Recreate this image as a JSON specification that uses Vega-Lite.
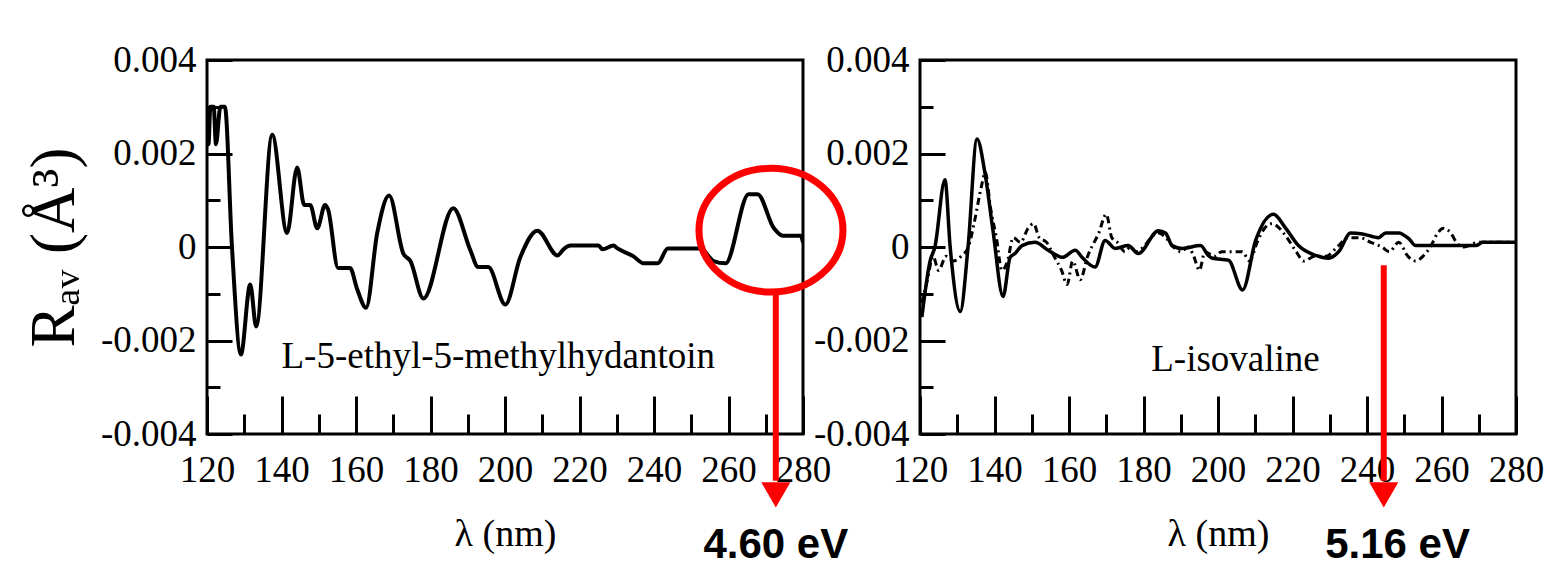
{
  "$schema": "https://vega.github.io/schema/vega-lite/v6.json",
  "background": "white",
  "padding": {"left": 21, "top": 39, "right": 5, "bottom": 5},
  "config": {
    "view": {"stroke": "black", "strokeWidth": 3},
    "font": "Times New Roman, Liberation Serif, serif",
    "axis": {"grid": false, "domain": false, "tickColor": "black", "tickWidth": 3, "labelColor": "black", "titleColor": "black", "labelFont": "Times New Roman, Liberation Serif, serif", "titleFont": "Times New Roman, Liberation Serif, serif", "titleFontWeight": "normal", "labelFlush": false, "labelOverlap": false}
  },
  "datasets": {
    "left": [
      {"nm": 120, "R": 0.0030}, {"nm": 120.4, "R": 0.0022}, {"nm": 120.9, "R": 0.0030}, {"nm": 121.8, "R": 0.0030},
      {"nm": 122.4, "R": 0.0022}, {"nm": 123.6, "R": 0.0030}, {"nm": 124.8, "R": 0.0030}, {"nm": 126.7, "R": 0.0},
      {"nm": 129.1, "R": -0.0023}, {"nm": 131.6, "R": -0.0008}, {"nm": 133.2, "R": -0.0017}, {"nm": 137.5, "R": 0.0024},
      {"nm": 141.5, "R": 0.0003}, {"nm": 144.2, "R": 0.0017}, {"nm": 146.1, "R": 0.0009}, {"nm": 147.7, "R": 0.0009},
      {"nm": 149.6, "R": 0.0004}, {"nm": 151.7, "R": 0.0009}, {"nm": 152.5, "R": 0.0008}, {"nm": 155.2, "R": -0.00045},
      {"nm": 158.4, "R": -0.00045}, {"nm": 160.3, "R": -0.0009}, {"nm": 162.7, "R": -0.0013}, {"nm": 165.7, "R": 0.0003},
      {"nm": 168.9, "R": 0.0011}, {"nm": 172.7, "R": -0.00014}, {"nm": 174.6, "R": -0.0003}, {"nm": 178.1, "R": -0.0011},
      {"nm": 186.1, "R": 0.00083}, {"nm": 190.7, "R": -0.00007}, {"nm": 192.8, "R": -0.00043}, {"nm": 195.5, "R": -0.00043},
      {"nm": 200.1, "R": -0.00123}, {"nm": 204.1, "R": -0.00022}, {"nm": 208.7, "R": 0.00035}, {"nm": 214.1, "R": -0.00018},
      {"nm": 215.7, "R": -0.00005}, {"nm": 217.6, "R": 0.00003}, {"nm": 225.1, "R": 0.00003}, {"nm": 226.2, "R": -0.00005},
      {"nm": 229.1, "R": 0.00003}, {"nm": 230.2, "R": -0.00003}, {"nm": 234.5, "R": -0.0002}, {"nm": 237.2, "R": -0.00035},
      {"nm": 241.0, "R": -0.00035}, {"nm": 243.7, "R": -0.00003}, {"nm": 252.5, "R": -0.00003}, {"nm": 256.0, "R": -0.0003},
      {"nm": 259.2, "R": -0.00035}, {"nm": 265.4, "R": 0.00113}, {"nm": 267.8, "R": 0.00113}, {"nm": 272.2, "R": 0.0004},
      {"nm": 274.6, "R": 0.00024}, {"nm": 279.4, "R": 0.00024}, {"nm": 280, "R": 0.0001}
    ],
    "rightSolid": [
      {"nm": 120.5, "R": -0.0015}, {"nm": 122.7, "R": -0.0003}, {"nm": 124.0, "R": 0.0}, {"nm": 126.7, "R": 0.00144},
      {"nm": 128.1, "R": 0.0}, {"nm": 130.8, "R": -0.00138}, {"nm": 132.9, "R": 0.0}, {"nm": 135.3, "R": 0.00231},
      {"nm": 137.5, "R": 0.00155}, {"nm": 139.6, "R": 0.00035}, {"nm": 142.3, "R": -0.00106}, {"nm": 144.2, "R": -0.00022},
      {"nm": 145.5, "R": -0.00014}, {"nm": 147.4, "R": 0.00003}, {"nm": 150.9, "R": 0.0001}, {"nm": 154.4, "R": -0.00007},
      {"nm": 158.2, "R": -0.00022}, {"nm": 161.7, "R": -0.00007}, {"nm": 163.5, "R": -0.00022}, {"nm": 167.0, "R": -0.00043},
      {"nm": 169.7, "R": 0.00014}, {"nm": 172.4, "R": -0.00003}, {"nm": 175.9, "R": 0.00003}, {"nm": 178.6, "R": -0.00014},
      {"nm": 184.0, "R": 0.00035}, {"nm": 185.9, "R": 0.0003}, {"nm": 187.7, "R": 0.00003}, {"nm": 190.4, "R": -0.00003},
      {"nm": 195.3, "R": 0.00003}, {"nm": 197.4, "R": -0.00018}, {"nm": 198.5, "R": -0.00024}, {"nm": 202.8, "R": -0.00028},
      {"nm": 206.6, "R": -0.00092}, {"nm": 210.1, "R": 0.00014}, {"nm": 214.9, "R": 0.0007}, {"nm": 218.1, "R": 0.00041},
      {"nm": 221.6, "R": 0.00003}, {"nm": 226.2, "R": -0.00018}, {"nm": 229.7, "R": -0.00024}, {"nm": 232.4, "R": -0.0001},
      {"nm": 235.6, "R": 0.0003}, {"nm": 238.8, "R": 0.00028}, {"nm": 243.1, "R": 0.0002}, {"nm": 245.0, "R": 0.0003},
      {"nm": 248.5, "R": 0.0003}, {"nm": 251.2, "R": 0.00018}, {"nm": 253.1, "R": 0.00003}, {"nm": 269.2, "R": 0.00003},
      {"nm": 271.1, "R": 0.0001}, {"nm": 280, "R": 0.0001}
    ],
    "rightDash": [
      {"nm": 120.5, "R": -0.0012}, {"nm": 122, "R": -0.0007}, {"nm": 123.5, "R": -0.0002}, {"nm": 125, "R": -0.0005},
      {"nm": 127, "R": -0.0002}, {"nm": 129, "R": -0.0003}, {"nm": 131, "R": -0.0002}, {"nm": 133, "R": 0.0},
      {"nm": 134.5, "R": 0.0005}, {"nm": 136.5, "R": 0.0013}, {"nm": 137.5, "R": 0.0016}, {"nm": 139, "R": 0.0008},
      {"nm": 140.5, "R": 0.0002}, {"nm": 142, "R": -0.0005}, {"nm": 143.5, "R": -0.0003}, {"nm": 145, "R": 0.0002},
      {"nm": 147, "R": 0.0001}, {"nm": 149, "R": 0.0004}, {"nm": 150.5, "R": 0.0005}, {"nm": 152, "R": 0.0002},
      {"nm": 154, "R": 0.0001}, {"nm": 156, "R": -0.0002}, {"nm": 158, "R": -0.0005}, {"nm": 159.5, "R": -0.0008},
      {"nm": 161, "R": -0.0003}, {"nm": 163, "R": -0.0007}, {"nm": 165, "R": -0.0002}, {"nm": 168, "R": 0.0003},
      {"nm": 170, "R": 0.0007}, {"nm": 171.5, "R": 0.0002}, {"nm": 173, "R": 0.0001}, {"nm": 175, "R": -0.0001},
      {"nm": 176.5, "R": 0.0}, {"nm": 178, "R": -0.0001}, {"nm": 180, "R": 0.0}, {"nm": 182, "R": 0.0002},
      {"nm": 184, "R": 0.0003}, {"nm": 186, "R": 0.0002}, {"nm": 188, "R": 0.0}, {"nm": 190, "R": -0.0001},
      {"nm": 192, "R": 0.0}, {"nm": 193.5, "R": -0.0002}, {"nm": 195, "R": -0.0005}, {"nm": 196.5, "R": -0.0001},
      {"nm": 199, "R": -0.0002}, {"nm": 201, "R": -0.0001}, {"nm": 203.5, "R": -0.0001}, {"nm": 206.5, "R": -0.0001},
      {"nm": 208.5, "R": -0.0003}, {"nm": 210.5, "R": 0.0001}, {"nm": 212.5, "R": 0.0004}, {"nm": 214.5, "R": 0.0005},
      {"nm": 216.5, "R": 0.0004}, {"nm": 218.5, "R": 0.0002}, {"nm": 221, "R": -0.0001}, {"nm": 223, "R": -0.0003},
      {"nm": 226, "R": -0.0002}, {"nm": 229, "R": -0.0002}, {"nm": 232, "R": 0.0}, {"nm": 235, "R": 0.0002},
      {"nm": 238, "R": 0.0002}, {"nm": 241, "R": 0.0001}, {"nm": 244, "R": 0.0}, {"nm": 246, "R": -0.0001},
      {"nm": 248.5, "R": 0.0001}, {"nm": 251, "R": -0.0002}, {"nm": 253, "R": -0.0003}, {"nm": 255, "R": -0.0002},
      {"nm": 257, "R": 0.0}, {"nm": 259, "R": 0.0003}, {"nm": 260.5, "R": 0.0004}, {"nm": 262.5, "R": 0.0003},
      {"nm": 264, "R": 0.0001}, {"nm": 266, "R": 0.0}, {"nm": 270, "R": 0.0001}, {"nm": 275, "R": 0.0001}, {"nm": 279, "R": 0.0001}
    ],
    "leftLabel": [{"nm": 198.2, "R": -0.00235, "label": "L-5-ethyl-5-methylhydantoin"}],
    "rightLabel": [{"nm": 204.7, "R": -0.00242, "label": "L-isovaline"}],
    "leftEllipse": [{"nm": 271.4, "R": 0.00036}],
    "leftArrow": [{"nm": 272.7, "R": -0.00092, "R2": -0.0050, "tip": -0.0053, "textR": -0.00637, "label": "4.60 eV"}],
    "rightArrow": [{"nm": 244.5, "R": -0.00039, "R2": -0.0050, "tip": -0.0053, "textR": -0.00637, "textNm": 248.2, "label": "5.16 eV"}]
  },
  "hconcat": [
    {
      "width": 596,
      "height": 374,
      "resolve": {"axis": {"x": "independent", "y": "independent"}},
      "layer": [
        {
          "data": {"name": "left"},
          "mark": {"type": "line", "color": "black", "strokeWidth": 4, "interpolate": "monotone", "clip": true},
          "encoding": {
            "x": {"field": "nm", "type": "quantitative", "scale": {"domain": [120, 280], "nice": false, "zero": false},
              "axis": {"orient": "bottom", "values": [120, 140, 160, 180, 200, 220, 240, 260, 280], "tickSize": -38, "labelPadding": 56, "labelFontSize": 37, "labelFont": "Times New Roman, Liberation Serif, serif", "title": "λ (nm)", "titleFontSize": 38, "titlePadding": 27}},
            "y": {"field": "R", "type": "quantitative", "scale": {"domain": [-0.004, 0.004], "nice": false, "zero": false},
              "axis": {"orient": "left", "values": [-0.004, -0.002, 0, 0.002, 0.004], "tickSize": -25, "labelPadding": 36, "labelFontSize": 37, "labelFont": "Times New Roman, Liberation Serif, serif",
                "labelExpr": "datum.value == 0 ? '0' : (datum.value < 0 ? '-' : '') + format(abs(datum.value), '.3f')",
                "title": "Rₐᵥ (Å³)", "titleFontSize": 63, "titlePadding": 14}}
          }
        },
        {
          "data": {"name": "leftLabel"},
          "mark": {"type": "text", "fontSize": 37, "font": "Times New Roman, Liberation Serif, serif", "color": "black"},
          "encoding": {
            "x": {"field": "nm", "type": "quantitative", "scale": {"domain": [120, 280], "nice": false, "zero": false},
              "axis": {"orient": "bottom", "values": [130, 150, 170, 190, 210, 230, 250, 270], "tickSize": -20, "labels": false, "title": null}},
            "y": {"field": "R", "type": "quantitative", "scale": {"domain": [-0.004, 0.004], "nice": false, "zero": false},
              "axis": {"orient": "left", "values": [-0.003, -0.001, 0.001, 0.003], "tickSize": -13, "labels": false, "title": null}},
            "text": {"field": "label"}
          }
        },
        {
          "data": {"name": "leftEllipse"},
          "mark": {"type": "point", "shape": "M -1 0 A 1 0.86 0 1 1 1 0 A 1 0.86 0 1 1 -1 0 Z", "size": 20736, "filled": false, "stroke": "#ff0000", "strokeWidth": 7, "opacity": 1, "clip": false},
          "encoding": {
            "x": {"field": "nm", "type": "quantitative", "scale": {"domain": [120, 280], "nice": false, "zero": false}, "axis": null},
            "y": {"field": "R", "type": "quantitative", "scale": {"domain": [-0.004, 0.004], "nice": false, "zero": false}, "axis": null}
          }
        },
        {
          "data": {"name": "leftArrow"},
          "mark": {"type": "rule", "color": "#ff0000", "strokeWidth": 6, "clip": false},
          "encoding": {
            "x": {"field": "nm", "type": "quantitative", "scale": {"domain": [120, 280], "nice": false, "zero": false}, "axis": null},
            "y": {"field": "R", "type": "quantitative", "scale": {"domain": [-0.004, 0.004], "nice": false, "zero": false}, "axis": null},
            "y2": {"field": "R2"}
          }
        },
        {
          "data": {"name": "leftArrow"},
          "mark": {"type": "point", "shape": "triangle-down", "size": 850, "filled": true, "color": "#ff0000", "opacity": 1, "clip": false},
          "encoding": {
            "x": {"field": "nm", "type": "quantitative", "scale": {"domain": [120, 280], "nice": false, "zero": false}, "axis": null},
            "y": {"field": "tip", "type": "quantitative", "scale": {"domain": [-0.004, 0.004], "nice": false, "zero": false}, "axis": null}
          }
        },
        {
          "data": {"name": "leftArrow"},
          "mark": {"type": "text", "font": "Liberation Sans", "fontWeight": "bold", "fontSize": 42, "color": "black", "clip": false},
          "encoding": {
            "x": {"field": "nm", "type": "quantitative", "scale": {"domain": [120, 280], "nice": false, "zero": false}, "axis": null},
            "y": {"field": "textR", "type": "quantitative", "scale": {"domain": [-0.004, 0.004], "nice": false, "zero": false}, "axis": null},
            "text": {"field": "label"}
          }
        }
      ]
    },
    {
      "width": 596,
      "height": 374,
      "resolve": {"axis": {"x": "independent", "y": "independent"}},
      "layer": [
        {
          "data": {"name": "rightSolid"},
          "mark": {"type": "line", "color": "black", "strokeWidth": 3.5, "interpolate": "monotone", "clip": true},
          "encoding": {
            "x": {"field": "nm", "type": "quantitative", "scale": {"domain": [120, 280], "nice": false, "zero": false},
              "axis": {"orient": "bottom", "values": [120, 140, 160, 180, 200, 220, 240, 260, 280], "tickSize": -38, "labelPadding": 56, "labelFontSize": 37, "labelFont": "Times New Roman, Liberation Serif, serif", "title": "λ (nm)", "titleFontSize": 38, "titlePadding": 27}},
            "y": {"field": "R", "type": "quantitative", "scale": {"domain": [-0.004, 0.004], "nice": false, "zero": false},
              "axis": {"orient": "left", "values": [-0.004, -0.002, 0, 0.002, 0.004], "tickSize": -25, "labelPadding": 36, "labelFontSize": 37, "labelFont": "Times New Roman, Liberation Serif, serif",
                "labelExpr": "datum.value == 0 ? '0' : (datum.value < 0 ? '-' : '') + format(abs(datum.value), '.3f')",
                "title": null}}
          }
        },
        {
          "data": {"name": "rightDash"},
          "mark": {"type": "line", "color": "black", "strokeWidth": 3, "strokeDash": [7, 4, 2, 4], "interpolate": "monotone", "clip": true},
          "encoding": {
            "x": {"field": "nm", "type": "quantitative", "scale": {"domain": [120, 280], "nice": false, "zero": false}, "axis": null},
            "y": {"field": "R", "type": "quantitative", "scale": {"domain": [-0.004, 0.004], "nice": false, "zero": false}, "axis": null}
          }
        },
        {
          "data": {"name": "rightLabel"},
          "mark": {"type": "text", "fontSize": 37, "font": "Times New Roman, Liberation Serif, serif", "color": "black"},
          "encoding": {
            "x": {"field": "nm", "type": "quantitative", "scale": {"domain": [120, 280], "nice": false, "zero": false},
              "axis": {"orient": "bottom", "values": [130, 150, 170, 190, 210, 230, 250, 270], "tickSize": -20, "labels": false, "title": null}},
            "y": {"field": "R", "type": "quantitative", "scale": {"domain": [-0.004, 0.004], "nice": false, "zero": false},
              "axis": {"orient": "left", "values": [-0.003, -0.001, 0.001, 0.003], "tickSize": -13, "labels": false, "title": null}},
            "text": {"field": "label"}
          }
        },
        {
          "data": {"name": "rightArrow"},
          "mark": {"type": "rule", "color": "#ff0000", "strokeWidth": 6, "clip": false},
          "encoding": {
            "x": {"field": "nm", "type": "quantitative", "scale": {"domain": [120, 280], "nice": false, "zero": false}, "axis": null},
            "y": {"field": "R", "type": "quantitative", "scale": {"domain": [-0.004, 0.004], "nice": false, "zero": false}, "axis": null},
            "y2": {"field": "R2"}
          }
        },
        {
          "data": {"name": "rightArrow"},
          "mark": {"type": "point", "shape": "triangle-down", "size": 850, "filled": true, "color": "#ff0000", "opacity": 1, "clip": false},
          "encoding": {
            "x": {"field": "nm", "type": "quantitative", "scale": {"domain": [120, 280], "nice": false, "zero": false}, "axis": null},
            "y": {"field": "tip", "type": "quantitative", "scale": {"domain": [-0.004, 0.004], "nice": false, "zero": false}, "axis": null}
          }
        },
        {
          "data": {"name": "rightArrow"},
          "mark": {"type": "text", "font": "Liberation Sans", "fontWeight": "bold", "fontSize": 42, "color": "black", "clip": false},
          "encoding": {
            "x": {"field": "textNm", "type": "quantitative", "scale": {"domain": [120, 280], "nice": false, "zero": false}, "axis": null},
            "y": {"field": "textR", "type": "quantitative", "scale": {"domain": [-0.004, 0.004], "nice": false, "zero": false}, "axis": null},
            "text": {"field": "label"}
          }
        }
      ]
    }
  ],
  "spacing": 117,
  "bounds": "flush"
}
